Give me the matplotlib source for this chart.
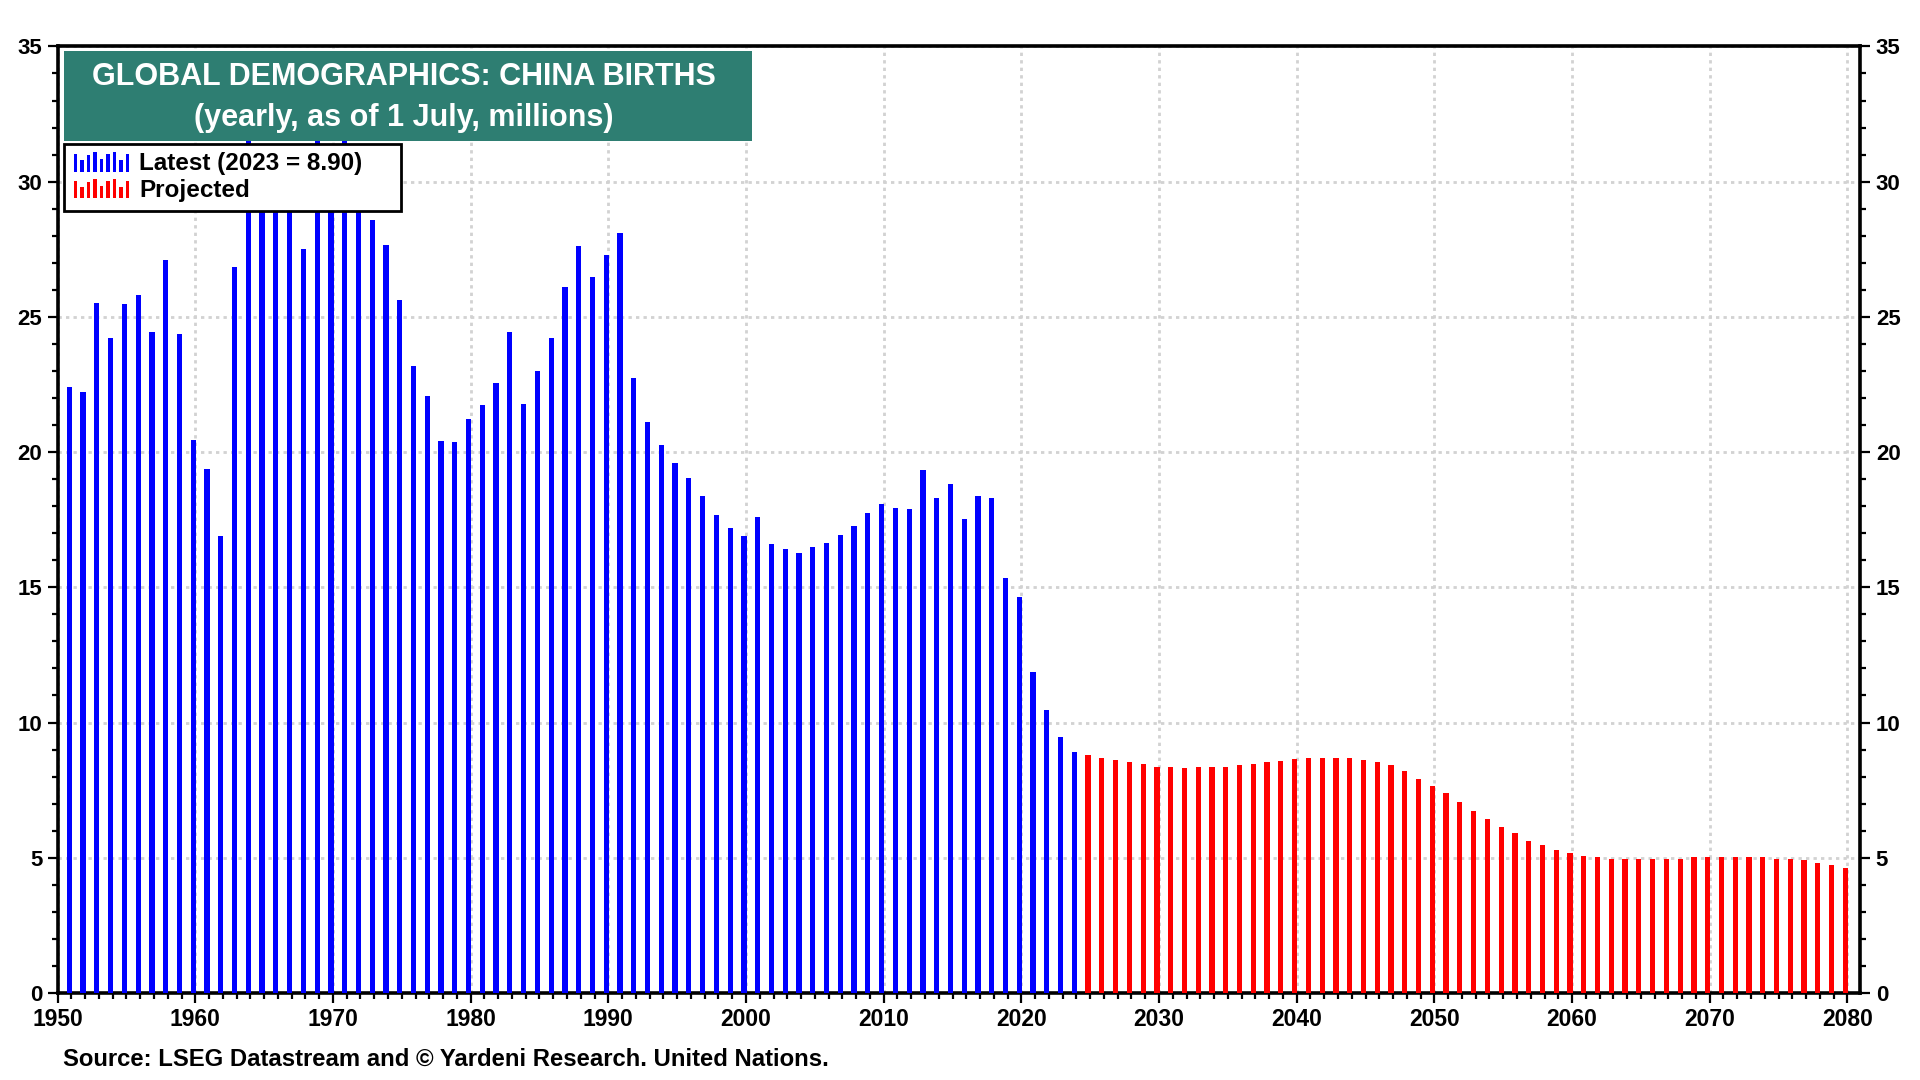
import numpy as np
import matplotlib
matplotlib.use("Agg")
from matplotlib import pyplot as plt
from matplotlib.legend_handler import HandlerBase
from matplotlib.patches import Rectangle
from matplotlib.ticker import MultipleLocator

# UN births for China, millions
latest_years = np.arange(1950, 2024)
latest = [22.40, 22.23, 25.52, 24.21, 25.48, 25.80, 24.44, 27.12, 24.38, 20.43,
          19.36, 16.91, 26.85, 33.00, 30.50, 30.30, 30.60, 27.51, 32.20, 31.00,
          32.60, 30.40, 28.60, 27.67, 25.63, 23.17, 22.07, 20.41, 20.37, 21.24,
          21.74, 22.56, 24.44, 21.79, 23.01, 24.21, 26.09, 27.61, 26.46, 27.28,
          28.11, 22.73, 21.13, 20.28, 19.59, 19.04, 18.36, 17.69, 17.20, 16.88,
          17.59, 16.59, 16.42, 16.26, 16.48, 16.64, 16.93, 17.26, 17.75, 18.09,
          17.93, 17.88, 19.32, 18.31, 18.81, 17.54, 18.37, 18.31, 15.36, 14.63,
          11.86, 10.47, 9.46, 8.90]

proj_years = np.arange(2024, 2080)
projected = [8.79, 8.69, 8.63, 8.53, 8.46, 8.36,
             8.36, 8.30, 8.36, 8.36, 8.36, 8.42, 8.47, 8.53, 8.59, 8.64,
             8.69, 8.69, 8.69, 8.69, 8.63, 8.53, 8.42, 8.20, 7.91, 7.65,
             7.39, 7.05, 6.72, 6.45, 6.12, 5.91, 5.63, 5.47, 5.30, 5.19,
             5.07, 5.01, 4.96, 4.96, 4.96, 4.96, 4.96, 4.96, 5.01, 5.01,
             5.01, 5.01, 5.01, 5.01, 4.96, 4.96, 4.90, 4.79, 4.73, 4.62]

title_lines = ["GLOBAL DEMOGRAPHICS: CHINA BIRTHS", "(yearly, as of 1 July, millions)"]
label_latest = "Latest (2023 = 8.90)"
label_proj = "Projected"
source = "Source: LSEG Datastream and \u00a9 Yardeni Research. United Nations."

BLUE = "#0000ff"
RED = "#ff0000"
TEAL = "#2e7e72"
fam = ["Liberation Sans", "DejaVu Sans"]

# datastream stamps each yearly value near the end of its year
shift = 0.85


class BarsHandler(HandlerBase):
    def __init__(self, color):
        super().__init__()
        self.color = color

    def create_artists(self, legend, orig_handle, xdescent, ydescent,
                       width, height, fontsize, trans):
        hs = [0.9, 0.6, 0.85, 1.0, 0.65, 0.9, 1.0, 0.6, 0.9]
        step = width / len(hs)
        arts = []
        for i, h in enumerate(hs):
            r = Rectangle((-xdescent + i * step + step * 0.2, -ydescent - 1),
                          step * 0.55, (height + 2) * h,
                          facecolor=self.color, edgecolor="none", transform=trans)
            arts.append(r)
        return arts


fig = plt.figure(figsize=(19.2, 10.8), dpi=100)
ax = fig.add_axes([0.030, 0.0806, 0.939, 0.8764])

b1 = ax.bar(latest_years + shift, latest, width=0.38, color=BLUE, zorder=3)
b2 = ax.bar(proj_years + shift, projected, width=0.38, color=RED, zorder=3)

ax.set_xlim(1950, 2080.95)
ax.set_ylim(0, 35)
ax.xaxis.set_major_locator(MultipleLocator(10))
ax.xaxis.set_minor_locator(MultipleLocator(1))
ax.yaxis.set_major_locator(MultipleLocator(5))
ax.yaxis.set_minor_locator(MultipleLocator(1))

ax.grid(True, which="major", color="#d2d2d2", linestyle=(0, (1.2, 1.5)), linewidth=2)
ax.set_axisbelow(True)

for s in ax.spines.values():
    s.set_linewidth(2.6)
ax.tick_params(which="both", direction="out", right=True, labelright=True,
               top=False, width=1.6, color="black")
ax.tick_params(which="major", length=7, pad=4)
ax.tick_params(which="minor", length=4)

for lab in ax.get_yticklabels():
    lab.set_fontfamily(fam)
    lab.set_fontweight("bold")
    lab.set_fontsize(16)
for lab in ax.get_xticklabels():
    lab.set_fontfamily(fam)
    lab.set_fontweight("bold")
    lab.set_fontsize(16.5)

# title box
ax.add_patch(Rectangle((0.0036, 0.900), 0.3814, 0.095, transform=ax.transAxes,
                       facecolor=TEAL, edgecolor="none", zorder=6))
ax.text(0.192, 0.968, title_lines[0], transform=ax.transAxes, ha="center", va="center",
        color="white", fontsize=22, fontweight="bold", family=fam, zorder=7)
ax.text(0.192, 0.924, title_lines[1], transform=ax.transAxes, ha="center", va="center",
        color="white", fontsize=22, fontweight="bold", family=fam, zorder=7)

leg = ax.legend([b1, b2], [label_latest, label_proj],
                handler_map={b1: BarsHandler(BLUE), b2: BarsHandler(RED)},
                loc="upper left", bbox_to_anchor=(0.0036, 0.0, 0.187, 0.897),
                mode="expand", borderaxespad=0,
                fancybox=False, framealpha=1, edgecolor="black",
                handlelength=2.4, handletextpad=0.35, labelspacing=0.15,
                borderpad=0.35, prop={"family": fam, "weight": "bold", "size": 17.5})
leg.get_frame().set_linewidth(2)
leg.set_zorder(8)

fig.text(0.033, 0.0195, source, ha="left", va="center", fontsize=17.2,
         fontweight="bold", family=fam)

fig.savefig("out.png", dpi=100)
